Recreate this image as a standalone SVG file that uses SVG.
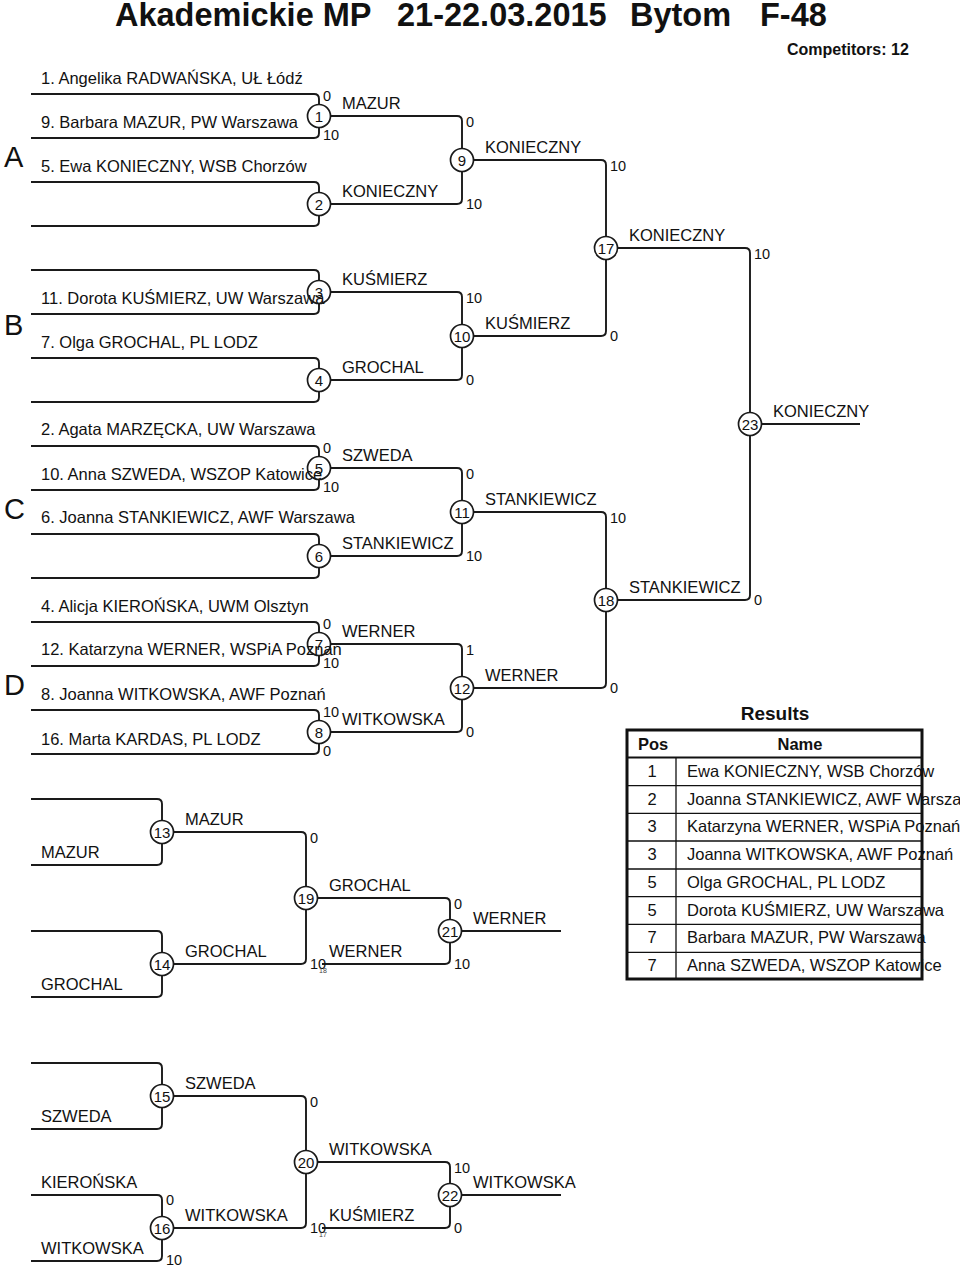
<svg xmlns="http://www.w3.org/2000/svg" width="960" height="1267" viewBox="0 0 960 1267">
<style>
text{font-family:"Liberation Sans",Arial,Helvetica,sans-serif;fill:#111}
.t{font-size:16.5px}
.s{font-size:14.5px}
.n{font-size:15px;text-anchor:middle}
.tiny{font-size:7px;fill:#444}
.b{font-weight:bold}
.big{font-size:29px}
.ln{fill:none;stroke:#1a1a1a;stroke-width:1.9}
.c{fill:none;stroke:#1a1a1a;stroke-width:1.7}
.tb{fill:none;stroke:#111;stroke-width:1.3}
</style>
<rect width="960" height="1267" fill="#fff"/>
<g id="title">
<text class="b" x="115" y="26" font-size="32.5">Akademickie MP</text>
<text class="b" x="397" y="26" font-size="32.5">21-22.03.2015</text>
<text class="b" x="630" y="26" font-size="32.5">Bytom</text>
<text class="b" x="760" y="26" font-size="32.5">F-48</text>
<text class="b" x="787" y="55" font-size="16">Competitors: 12</text>
</g>
<g id="groups">
<text class="big" x="4" y="167">A</text>
<text class="big" x="4" y="335">B</text>
<text class="big" x="4" y="519">C</text>
<text class="big" x="4" y="695">D</text>
</g>
<g id="entries">
<text class="t" x="41" y="84">1. Angelika RADWAŃSKA, UŁ Łódź</text>
<text class="t" x="41" y="128">9. Barbara MAZUR, PW Warszawa</text>
<text class="t" x="41" y="172">5. Ewa KONIECZNY, WSB Chorzów</text>
<text class="t" x="41" y="304">11. Dorota KUŚMIERZ, UW Warszawa</text>
<text class="t" x="41" y="348">7. Olga GROCHAL, PL LODZ</text>
<text class="t" x="41" y="435">2. Agata MARZĘCKA, UW Warszawa</text>
<text class="t" x="41" y="480">10. Anna SZWEDA, WSZOP Katowice</text>
<text class="t" x="41" y="523">6. Joanna STANKIEWICZ, AWF Warszawa</text>
<text class="t" x="41" y="612">4. Alicja KIEROŃSKA, UWM Olsztyn</text>
<text class="t" x="41" y="655">12. Katarzyna WERNER, WSPiA Poznań</text>
<text class="t" x="41" y="700">8. Joanna WITKOWSKA, AWF Poznań</text>
<text class="t" x="41" y="745">16. Marta KARDAS, PL LODZ</text>
<text class="t" x="41" y="858">MAZUR</text>
<text class="t" x="41" y="990">GROCHAL</text>
<text class="t" x="41" y="1122">SZWEDA</text>
<text class="t" x="41" y="1188">KIEROŃSKA</text>
<text class="t" x="41" y="1254">WITKOWSKA</text>
</g>
<g id="connectors" class="ln">
<path d="M31 94H314Q319 94 319 99V104.5M31 138H314Q319 138 319 133V127.5"/>
<path d="M31 182H314Q319 182 319 187V192.5M31 226H314Q319 226 319 221V215.5"/>
<path d="M31 270H314Q319 270 319 275V280.5M31 314H314Q319 314 319 309V303.5"/>
<path d="M31 358H314Q319 358 319 363V368.5M31 402H314Q319 402 319 397V391.5"/>
<path d="M31 446H314Q319 446 319 451V456.5M31 490H314Q319 490 319 485V479.5"/>
<path d="M31 534H314Q319 534 319 539V544.5M31 578H314Q319 578 319 573V567.5"/>
<path d="M31 622H314Q319 622 319 627V632.5M31 666H314Q319 666 319 661V655.5"/>
<path d="M31 710H314Q319 710 319 715V720.5M31 754H314Q319 754 319 749V743.5"/>
<path d="M330.5 116H457Q462 116 462 121V148.5M330.5 204H457Q462 204 462 199V171.5"/>
<path d="M330.5 292H457Q462 292 462 297V324.5M330.5 380H457Q462 380 462 375V347.5"/>
<path d="M330.5 468H457Q462 468 462 473V500.5M330.5 556H457Q462 556 462 551V523.5"/>
<path d="M330.5 644H457Q462 644 462 649V676.5M330.5 732H457Q462 732 462 727V699.5"/>
<path d="M473.5 160H601Q606 160 606 165V236.5M473.5 336H601Q606 336 606 331V259.5"/>
<path d="M473.5 512H601Q606 512 606 517V588.5M473.5 688H601Q606 688 606 683V611.5"/>
<path d="M617.5 248H745Q750 248 750 253V412.5M617.5 600H745Q750 600 750 595V435.5"/>
<path d="M761.5 424H860"/>
<path d="M31 799H157Q162 799 162 804V820.5M31 865H157Q162 865 162 860V843.5"/>
<path d="M31 931H157Q162 931 162 936V952.5M31 997H157Q162 997 162 992V975.5"/>
<path d="M173.5 832H301Q306 832 306 837V886.5M173.5 964H301Q306 964 306 959V909.5"/>
<path d="M317.5 898H445Q450 898 450 903V919.5M322 964H445Q450 964 450 959V942.5"/>
<path d="M461.5 931H561"/>
<path d="M31 1063H157Q162 1063 162 1068V1084.5M31 1129H157Q162 1129 162 1124V1107.5"/>
<path d="M31 1195H157Q162 1195 162 1200V1216.5M31 1261H157Q162 1261 162 1256V1239.5"/>
<path d="M173.5 1096H301Q306 1096 306 1101V1150.5M173.5 1228H301Q306 1228 306 1223V1173.5"/>
<path d="M317.5 1162H445Q450 1162 450 1167V1183.5M322 1228H445Q450 1228 450 1223V1206.5"/>
<path d="M461.5 1195H561"/>
</g>
<g id="m1"><circle class="c" cx="319" cy="116" r="11.5"/><text class="n" x="319" y="121.5">1</text><text class="s" x="323" y="101">0</text><text class="s" x="323" y="140">10</text><text class="t" x="342" y="109">MAZUR</text></g>
<g id="m2"><circle class="c" cx="319" cy="204" r="11.5"/><text class="n" x="319" y="209.5">2</text><text class="t" x="342" y="197">KONIECZNY</text></g>
<g id="m3"><circle class="c" cx="319" cy="292" r="11.5"/><text class="n" x="319" y="297.5">3</text><text class="t" x="342" y="285">KUŚMIERZ</text></g>
<g id="m4"><circle class="c" cx="319" cy="380" r="11.5"/><text class="n" x="319" y="385.5">4</text><text class="t" x="342" y="373">GROCHAL</text></g>
<g id="m5"><circle class="c" cx="319" cy="468" r="11.5"/><text class="n" x="319" y="473.5">5</text><text class="s" x="323" y="453">0</text><text class="s" x="323" y="492">10</text><text class="t" x="342" y="461">SZWEDA</text></g>
<g id="m6"><circle class="c" cx="319" cy="556" r="11.5"/><text class="n" x="319" y="561.5">6</text><text class="t" x="342" y="549">STANKIEWICZ</text></g>
<g id="m7"><circle class="c" cx="319" cy="644" r="11.5"/><text class="n" x="319" y="649.5">7</text><text class="s" x="323" y="629">0</text><text class="s" x="323" y="668">10</text><text class="t" x="342" y="637">WERNER</text></g>
<g id="m8"><circle class="c" cx="319" cy="732" r="11.5"/><text class="n" x="319" y="737.5">8</text><text class="s" x="323" y="717">10</text><text class="s" x="323" y="756">0</text><text class="t" x="342" y="725">WITKOWSKA</text></g>
<g id="m9"><circle class="c" cx="462" cy="160" r="11.5"/><text class="n" x="462" y="165.5">9</text><text class="s" x="466" y="127">0</text><text class="s" x="466" y="209">10</text><text class="t" x="485" y="153">KONIECZNY</text></g>
<g id="m10"><circle class="c" cx="462" cy="336" r="11.5"/><text class="n" x="462" y="341.5">10</text><text class="s" x="466" y="303">10</text><text class="s" x="466" y="385">0</text><text class="t" x="485" y="329">KUŚMIERZ</text></g>
<g id="m11"><circle class="c" cx="462" cy="512" r="11.5"/><text class="n" x="462" y="517.5">11</text><text class="s" x="466" y="479">0</text><text class="s" x="466" y="561">10</text><text class="t" x="485" y="505">STANKIEWICZ</text></g>
<g id="m12"><circle class="c" cx="462" cy="688" r="11.5"/><text class="n" x="462" y="693.5">12</text><text class="s" x="466" y="655">1</text><text class="s" x="466" y="737">0</text><text class="t" x="485" y="681">WERNER</text></g>
<g id="m17"><circle class="c" cx="606" cy="248" r="11.5"/><text class="n" x="606" y="253.5">17</text><text class="s" x="610" y="171">10</text><text class="s" x="610" y="341">0</text><text class="t" x="629" y="241">KONIECZNY</text></g>
<g id="m18"><circle class="c" cx="606" cy="600" r="11.5"/><text class="n" x="606" y="605.5">18</text><text class="s" x="610" y="523">10</text><text class="s" x="610" y="693">0</text><text class="t" x="629" y="593">STANKIEWICZ</text></g>
<g id="m23"><circle class="c" cx="750" cy="424" r="11.5"/><text class="n" x="750" y="429.5">23</text><text class="s" x="754" y="259">10</text><text class="s" x="754" y="605">0</text><text class="t" x="773" y="417">KONIECZNY</text></g>
<g id="m13"><circle class="c" cx="162" cy="832" r="11.5"/><text class="n" x="162" y="837.5">13</text><text class="t" x="185" y="825">MAZUR</text></g>
<g id="m14"><circle class="c" cx="162" cy="964" r="11.5"/><text class="n" x="162" y="969.5">14</text><text class="t" x="185" y="957">GROCHAL</text></g>
<g id="m19"><circle class="c" cx="306" cy="898" r="11.5"/><text class="n" x="306" y="903.5">19</text><text class="s" x="310" y="843">0</text><text class="s" x="310" y="969">10</text><text class="tiny" x="319" y="973">18</text><text class="t" x="329" y="891">GROCHAL</text><text class="t" x="329" y="957">WERNER</text></g>
<g id="m21"><circle class="c" cx="450" cy="931" r="11.5"/><text class="n" x="450" y="936.5">21</text><text class="s" x="454" y="909">0</text><text class="s" x="454" y="969">10</text><text class="t" x="473" y="924">WERNER</text></g>
<g id="m15"><circle class="c" cx="162" cy="1096" r="11.5"/><text class="n" x="162" y="1101.5">15</text><text class="t" x="185" y="1089">SZWEDA</text></g>
<g id="m16"><circle class="c" cx="162" cy="1228" r="11.5"/><text class="n" x="162" y="1233.5">16</text><text class="s" x="166" y="1205">0</text><text class="s" x="166" y="1265">10</text><text class="t" x="185" y="1221">WITKOWSKA</text></g>
<g id="m20"><circle class="c" cx="306" cy="1162" r="11.5"/><text class="n" x="306" y="1167.5">20</text><text class="s" x="310" y="1107">0</text><text class="s" x="310" y="1233">10</text><text class="tiny" x="319" y="1237">17</text><text class="t" x="329" y="1155">WITKOWSKA</text><text class="t" x="329" y="1221">KUŚMIERZ</text></g>
<g id="m22"><circle class="c" cx="450" cy="1195" r="11.5"/><text class="n" x="450" y="1200.5">22</text><text class="s" x="454" y="1173">10</text><text class="s" x="454" y="1233">0</text><text class="t" x="473" y="1188">WITKOWSKA</text></g>
<g id="results">
<text class="b" x="775" y="720" font-size="19" text-anchor="middle">Results</text>
<text class="b t" x="638" y="750">Pos</text>
<text class="b t" x="800" y="750" text-anchor="middle">Name</text>
<text class="t" x="652" y="777" text-anchor="middle">1</text><text class="t" x="687" y="777">Ewa KONIECZNY, WSB Chorzów</text>
<text class="t" x="652" y="805" text-anchor="middle">2</text><text class="t" x="687" y="805">Joanna STANKIEWICZ, AWF Warszawa</text>
<text class="t" x="652" y="832" text-anchor="middle">3</text><text class="t" x="687" y="832">Katarzyna WERNER, WSPiA Poznań</text>
<text class="t" x="652" y="860" text-anchor="middle">3</text><text class="t" x="687" y="860">Joanna WITKOWSKA, AWF Poznań</text>
<text class="t" x="652" y="888" text-anchor="middle">5</text><text class="t" x="687" y="888">Olga GROCHAL, PL LODZ</text>
<text class="t" x="652" y="916" text-anchor="middle">5</text><text class="t" x="687" y="916">Dorota KUŚMIERZ, UW Warszawa</text>
<text class="t" x="652" y="943" text-anchor="middle">7</text><text class="t" x="687" y="943">Barbara MAZUR, PW Warszawa</text>
<text class="t" x="652" y="971" text-anchor="middle">7</text><text class="t" x="687" y="971">Anna SZWEDA, WSZOP Katowice</text>
<path class="tb" d="M627 785.7H922M627 813.3H922M627 841H922M627 869H922M627 896.7H922M627 924.3H922M627 952.3H922M676 757.5V979"/>
<path fill="none" stroke="#111" stroke-width="2" d="M627 757.5H922"/>
<rect x="627" y="730" width="295" height="249" fill="none" stroke="#111" stroke-width="3"/>
</g>
</svg>
